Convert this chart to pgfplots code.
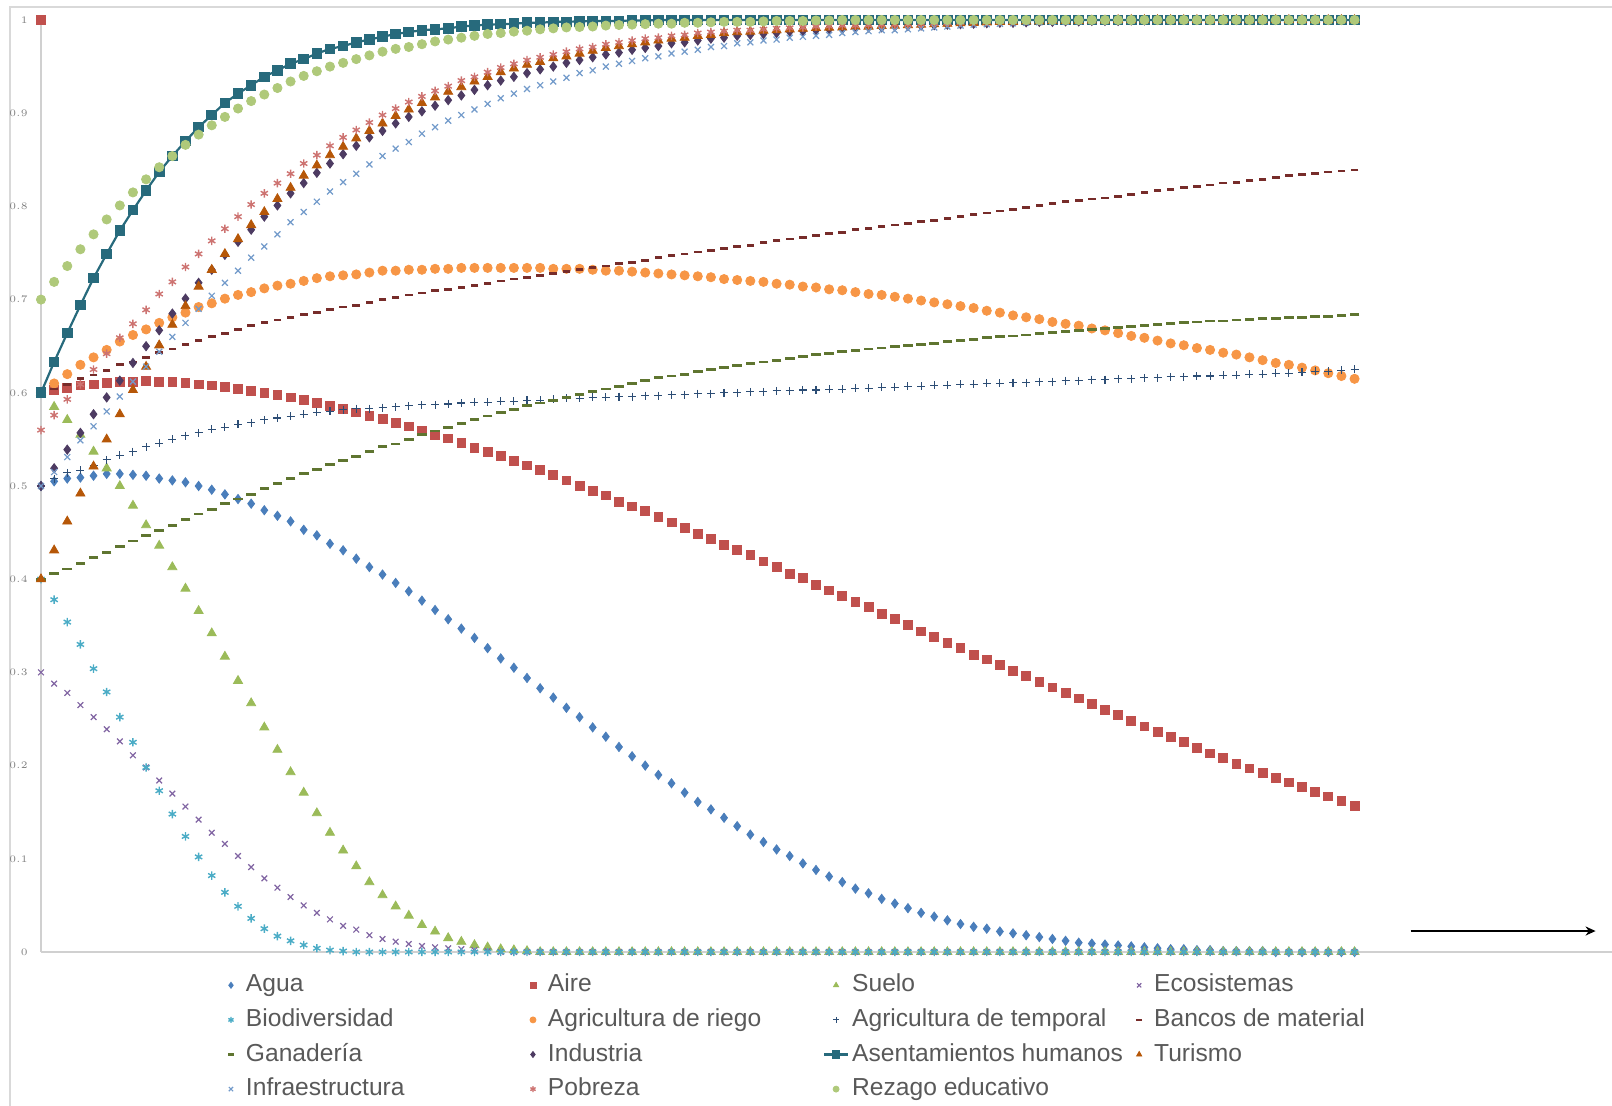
\documentclass[border=0pt]{standalone}
\usepackage{fontspec}
\setmainfont{Liberation Sans}
\usepackage{pgfplots}
\usepackage{pgfplotstable}
\pgfplotsset{compat=1.18}
\usetikzlibrary{arrows.meta}
\definecolor{cAgua}{HTML}{4A7EBB}
\definecolor{cAire}{HTML}{C0504D}
\definecolor{cSuelo}{HTML}{9BBB59}
\definecolor{cEco}{HTML}{8064A2}
\definecolor{cBio}{HTML}{4BACC6}
\definecolor{cRiego}{HTML}{F79646}
\definecolor{cTemp}{HTML}{2C4D75}
\definecolor{cBancos}{HTML}{772C2A}
\definecolor{cGan}{HTML}{5F7530}
\definecolor{cInd}{HTML}{4D3B62}
\definecolor{cAsent}{HTML}{276A7C}
\definecolor{cTur}{HTML}{B65708}
\definecolor{cInfra}{HTML}{729ACA}
\definecolor{cPob}{HTML}{CD7371}
\definecolor{cRez}{HTML}{AFC97A}
\definecolor{cAxis}{HTML}{D0D0D0}
\definecolor{cBorder}{HTML}{D9D9D9}
\definecolor{cTick}{HTML}{808080}
\definecolor{cLeg}{HTML}{595959}

\pgfplotstableread{
x agua aire suelo eco bio riego temp bancos gan ind asent tur infra pob rez
0 0.500 0.600 0.600 0.300 0.400 0.600 0.500 0.600 0.400 0.500 0.600 0.400 0.500 0.560 0.700
1 0.505 0.603 0.585 0.288 0.378 0.610 0.508 0.604 0.406 0.519 0.633 0.431 0.515 0.576 0.719
2 0.508 0.605 0.571 0.278 0.354 0.620 0.514 0.609 0.411 0.539 0.664 0.462 0.531 0.593 0.736
3 0.509 0.608 0.555 0.265 0.330 0.630 0.517 0.615 0.417 0.557 0.694 0.492 0.549 0.609 0.754
4 0.511 0.609 0.537 0.252 0.304 0.638 0.522 0.619 0.423 0.577 0.723 0.521 0.564 0.625 0.770
5 0.513 0.611 0.519 0.239 0.279 0.646 0.528 0.624 0.429 0.595 0.749 0.550 0.580 0.642 0.786
6 0.513 0.612 0.500 0.226 0.252 0.655 0.533 0.630 0.435 0.613 0.774 0.577 0.596 0.659 0.801
7 0.512 0.612 0.479 0.211 0.225 0.662 0.537 0.633 0.441 0.632 0.796 0.603 0.612 0.674 0.815
8 0.511 0.613 0.458 0.198 0.198 0.668 0.542 0.638 0.447 0.650 0.817 0.628 0.628 0.689 0.829
9 0.508 0.612 0.436 0.184 0.173 0.675 0.546 0.643 0.452 0.667 0.837 0.651 0.644 0.706 0.842
10 0.506 0.612 0.413 0.170 0.148 0.681 0.550 0.647 0.458 0.685 0.854 0.673 0.660 0.719 0.854
11 0.504 0.611 0.390 0.156 0.124 0.686 0.554 0.652 0.464 0.701 0.870 0.693 0.675 0.735 0.866
12 0.500 0.609 0.366 0.142 0.102 0.692 0.557 0.656 0.470 0.718 0.885 0.714 0.690 0.749 0.877
13 0.496 0.608 0.342 0.128 0.082 0.696 0.561 0.660 0.475 0.732 0.898 0.732 0.704 0.763 0.887
14 0.491 0.606 0.317 0.116 0.064 0.701 0.563 0.664 0.481 0.748 0.911 0.749 0.718 0.776 0.896
15 0.486 0.604 0.291 0.103 0.049 0.705 0.566 0.668 0.486 0.762 0.921 0.765 0.731 0.789 0.905
16 0.481 0.602 0.267 0.091 0.036 0.708 0.568 0.672 0.491 0.775 0.930 0.780 0.745 0.802 0.913
17 0.474 0.600 0.241 0.079 0.025 0.712 0.571 0.675 0.497 0.789 0.939 0.794 0.757 0.814 0.920
18 0.468 0.598 0.217 0.069 0.017 0.715 0.573 0.678 0.503 0.801 0.946 0.808 0.770 0.825 0.927
19 0.462 0.595 0.193 0.059 0.012 0.717 0.575 0.681 0.508 0.814 0.953 0.820 0.783 0.835 0.934
20 0.453 0.592 0.171 0.050 0.0075 0.720 0.577 0.684 0.513 0.825 0.958 0.833 0.794 0.846 0.940
21 0.447 0.589 0.149 0.042 0.004 0.723 0.579 0.686 0.518 0.836 0.964 0.844 0.805 0.855 0.945
22 0.438 0.586 0.128 0.035 0.002 0.725 0.580 0.689 0.523 0.846 0.969 0.855 0.816 0.865 0.950
23 0.431 0.583 0.109 0.028 0.001 0.726 0.582 0.692 0.527 0.856 0.972 0.864 0.826 0.874 0.954
24 0.422 0.579 0.092 0.024 0 0.727 0.583 0.694 0.532 0.865 0.976 0.873 0.835 0.882 0.958
25 0.413 0.575 0.075 0.018 0 0.729 0.583 0.697 0.537 0.874 0.979 0.881 0.845 0.890 0.962
26 0.405 0.572 0.061 0.014 0 0.731 0.584 0.700 0.542 0.881 0.982 0.889 0.854 0.898 0.966
27 0.396 0.568 0.049 0.011 0 0.731 0.585 0.702 0.545 0.889 0.985 0.897 0.862 0.905 0.969
28 0.387 0.564 0.039 0.0086 0 0.732 0.586 0.705 0.550 0.896 0.987 0.904 0.869 0.912 0.971
29 0.377 0.559 0.029 0.0064 0 0.732 0.587 0.707 0.555 0.902 0.989 0.911 0.878 0.918 0.974
30 0.367 0.555 0.022 0.005 0 0.733 0.587 0.710 0.559 0.908 0.990 0.917 0.885 0.924 0.977
31 0.357 0.551 0.015 0.004 0 0.733 0.588 0.711 0.563 0.914 0.991 0.923 0.892 0.929 0.979
32 0.347 0.546 0.011 0.003 0 0.734 0.589 0.713 0.567 0.919 0.993 0.928 0.898 0.935 0.981
33 0.337 0.541 0.0075 0.002 0 0.734 0.590 0.715 0.571 0.925 0.994 0.934 0.904 0.939 0.983
34 0.326 0.537 0.005 0.001 0 0.734 0.590 0.717 0.575 0.930 0.995 0.939 0.910 0.944 0.985
35 0.315 0.532 0.003 0 0 0.734 0.591 0.720 0.579 0.935 0.9955 0.944 0.916 0.949 0.986
36 0.305 0.527 0.002 0 0 0.734 0.591 0.722 0.582 0.939 0.996 0.948 0.921 0.953 0.9875
37 0.294 0.522 0.001 0 0 0.734 0.592 0.724 0.586 0.943 0.997 0.952 0.926 0.957 0.9885
38 0.283 0.517 0 0 0 0.734 0.592 0.726 0.589 0.947 0.997 0.955 0.930 0.960 0.990
39 0.273 0.512 0 0 0 0.733 0.593 0.728 0.592 0.950 0.998 0.959 0.934 0.963 0.991
40 0.262 0.506 0 0 0 0.733 0.594 0.730 0.595 0.954 0.998 0.961 0.938 0.966 0.992
41 0.252 0.500 0 0 0 0.733 0.594 0.732 0.598 0.957 0.9985 0.964 0.943 0.969 0.9925
42 0.241 0.495 0 0 0 0.732 0.595 0.734 0.601 0.960 0.999 0.967 0.946 0.971 0.993
43 0.231 0.490 0 0 0 0.731 0.595 0.736 0.604 0.963 0.999 0.970 0.950 0.974 0.994
44 0.220 0.483 0 0 0 0.731 0.596 0.739 0.607 0.965 0.999 0.972 0.953 0.976 0.9946
45 0.210 0.478 0 0 0 0.730 0.596 0.740 0.610 0.968 0.9995 0.974 0.956 0.978 0.995
46 0.200 0.473 0 0 0 0.729 0.597 0.742 0.613 0.970 0.9995 0.976 0.959 0.980 0.9955
47 0.190 0.467 0 0 0 0.728 0.597 0.745 0.616 0.972 1 0.978 0.961 0.981 0.996
48 0.181 0.461 0 0 0 0.727 0.598 0.747 0.618 0.975 1 0.980 0.964 0.983 0.996
49 0.171 0.455 0 0 0 0.726 0.598 0.749 0.620 0.976 1 0.981 0.966 0.984 0.997
50 0.161 0.449 0 0 0 0.725 0.599 0.751 0.623 0.978 1 0.983 0.968 0.986 0.997
51 0.153 0.443 0 0 0 0.724 0.599 0.753 0.625 0.980 1 0.984 0.971 0.987 0.9975
52 0.144 0.437 0 0 0 0.722 0.600 0.755 0.627 0.981 1 0.986 0.972 0.988 0.998
53 0.135 0.431 0 0 0 0.721 0.600 0.757 0.629 0.983 1 0.987 0.975 0.989 0.998
54 0.126 0.426 0 0 0 0.720 0.601 0.758 0.631 0.984 1 0.9875 0.976 0.989 0.998
55 0.118 0.419 0 0 0 0.719 0.601 0.761 0.633 0.985 1 0.9886 0.978 0.990 0.9985
56 0.110 0.413 0 0 0 0.717 0.602 0.763 0.635 0.986 1 0.989 0.979 0.991 0.999
57 0.103 0.406 0 0 0 0.716 0.602 0.765 0.637 0.9875 1 0.990 0.981 0.9915 0.999
58 0.095 0.401 0 0 0 0.714 0.603 0.767 0.639 0.988 1 0.9907 0.982 0.992 0.999
59 0.088 0.394 0 0 0 0.713 0.603 0.769 0.641 0.989 1 0.9914 0.983 0.993 0.9995
60 0.081 0.388 0 0 0 0.711 0.604 0.771 0.642 0.990 1 0.9918 0.984 0.9935 0.9995
61 0.075 0.382 0 0 0 0.710 0.604 0.772 0.644 0.990 1 0.992 0.986 0.994 1
62 0.068 0.376 0 0 0 0.708 0.605 0.775 0.645 0.991 1 0.993 0.987 0.994 1
63 0.063 0.370 0 0 0 0.706 0.605 0.776 0.647 0.992 1 0.993 0.988 0.9945 1
64 0.057 0.363 0 0 0 0.705 0.606 0.778 0.648 0.992 1 0.9936 0.989 0.995 1
65 0.052 0.357 0 0 0 0.703 0.606 0.780 0.650 0.993 1 0.994 0.989 0.995 1
66 0.047 0.351 0 0 0 0.701 0.607 0.782 0.651 0.9935 1 0.9945 0.990 0.9955 1
67 0.042 0.344 0 0 0 0.699 0.607 0.784 0.652 0.994 1 0.995 0.991 0.996 1
68 0.038 0.338 0 0 0 0.697 0.608 0.785 0.653 0.9945 1 0.9955 0.992 0.9965 1
69 0.034 0.332 0 0 0 0.695 0.608 0.787 0.655 0.995 1 0.996 0.993 0.997 1
70 0.030 0.326 0 0 0 0.693 0.609 0.789 0.656 0.9955 1 0.9965 0.994 0.9975 1
71 0.027 0.319 0 0 0 0.691 0.609 0.791 0.657 0.996 1 0.997 0.995 0.998 1
72 0.025 0.314 0 0 0 0.688 0.610 0.793 0.659 0.9965 1 0.9975 0.9955 0.998 1
73 0.022 0.308 0 0 0 0.686 0.610 0.795 0.660 0.997 1 0.998 0.996 0.9985 1
74 0.020 0.302 0 0 0 0.683 0.611 0.797 0.661 0.997 1 0.998 0.9965 0.9985 1
75 0.018 0.296 0 0 0 0.681 0.611 0.799 0.662 0.9975 1 0.9985 0.997 0.999 1
76 0.016 0.290 0 0 0 0.679 0.612 0.801 0.664 0.998 1 0.9985 0.9975 0.999 1
77 0.014 0.284 0 0 0 0.676 0.612 0.803 0.665 0.998 1 0.999 0.998 0.999 1
78 0.012 0.278 0 0 0 0.674 0.613 0.805 0.666 0.9985 1 0.999 0.998 0.9995 1
79 0.010 0.272 0 0 0 0.672 0.613 0.806 0.667 0.9985 1 0.999 0.9985 0.9995 1
80 0.009 0.266 0 0 0 0.669 0.614 0.808 0.668 0.999 1 0.9995 0.999 1 1
81 0.008 0.260 0 0 0 0.667 0.614 0.809 0.669 0.999 1 0.9995 0.999 1 1
82 0.007 0.254 0 0 0 0.664 0.615 0.811 0.670 0.999 1 1 0.999 1 1
83 0.006 0.248 0 0 0 0.661 0.615 0.813 0.671 0.9995 1 1 0.9995 1 1
84 0.005 0.242 0 0 0 0.659 0.616 0.815 0.672 0.9995 1 1 0.9995 1 1
85 0.004 0.236 0 0 0 0.656 0.616 0.817 0.673 1 1 1 1 1 1
86 0.003 0.231 0 0 0 0.653 0.617 0.818 0.674 1 1 1 1 1 1
87 0.003 0.225 0 0 0 0.651 0.617 0.820 0.675 1 1 1 1 1 1
88 0.002 0.219 0 0 0 0.648 0.618 0.821 0.676 1 1 1 1 1 1
89 0.002 0.213 0 0 0 0.646 0.618 0.823 0.677 1 1 1 1 1 1
90 0.001 0.208 0 0 0 0.643 0.619 0.825 0.677 1 1 1 1 1 1
91 0.001 0.202 0 0 0 0.641 0.619 0.826 0.678 1 1 1 1 1 1
92 0.001 0.197 0 0 0 0.638 0.620 0.828 0.679 1 1 1 1 1 1
93 0.001 0.192 0 0 0 0.635 0.620 0.829 0.680 1 1 1 1 1 1
94 0 0.187 0 0 0 0.632 0.621 0.831 0.680 1 1 1 1 1 1
95 0 0.182 0 0 0 0.630 0.621 0.833 0.681 1 1 1 1 1 1
96 0 0.177 0 0 0 0.627 0.622 0.834 0.681 1 1 1 1 1 1
97 0 0.172 0 0 0 0.624 0.623 0.835 0.682 1 1 1 1 1 1
98 0 0.167 0 0 0 0.621 0.623 0.837 0.682 1 1 1 1 1 1
99 0 0.162 0 0 0 0.618 0.624 0.838 0.683 1 1 1 1 1 1
100 0 0.157 0 0 0 0.615 0.625 0.839 0.684 1 1 1 1 1 1
}\datos

\newcommand{\leg}[1]{\makebox[139pt][l]{\hspace{1.5pt}#1}}

\begin{document}
\begin{tikzpicture}[x=1pt,y=1pt]
\useasboundingbox (0,0) rectangle (806,553);
\draw[cBorder, line width=0.6pt] (5,0) -- (5,549.5) -- (806,549.5);
\begin{axis}[
  at={(20.5pt,77pt)}, anchor=south west,
  scale only axis, width=785.5pt, height=466pt,
  xmin=0, xmax=119.6, ymin=0, ymax=1,
  clip=false,
  axis x line=bottom, axis y line=left,
  axis line style={-, draw=cAxis, line width=0.6pt},
  xtick=\empty,
  ytick={0,0.1,0.2,0.3,0.4,0.5,0.6,0.7,0.8,0.9,1},
  major tick length=0pt,
  yticklabel style={font=\fontsize{4.2}{5}\selectfont, text=cTick, inner sep=0pt, xshift=-6.5pt},
  legend columns=4,
  legend style={at={(axis description cs:0.1133,-0.0234)}, anchor=north west,
    draw=none, fill=none, inner sep=0pt, outer sep=0pt,
    row sep=5.8pt, column sep=0pt,
    font=\fontsize{12.3}{14}\selectfont, text=cLeg,
    nodes={inner sep=0pt, text height=9pt, text depth=2.5pt}},
  legend image code/.code={\path[draw=none,fill=none] (0pt,-2pt) rectangle (12pt,2pt);
    \draw[mark repeat=2,mark phase=2,#1] plot coordinates {(0pt,0pt) (6pt,0pt) (12pt,0pt)};},
  legend image post style={mark size=1.5pt},
]
\addplot[only marks, mark=diamond*, mark size=2.3pt, color=cAgua] table[x=x,y=agua]{\datos};
\addlegendentry{\leg{Agua}}
\addplot[only marks, mark=square*, mark size=2.2pt, color=cAire] table[x=x,y=aire]{\datos};
\addlegendentry{\leg{Aire}}
\addplot[only marks, mark=triangle*, mark size=2.6pt, color=cSuelo] table[x=x,y=suelo]{\datos};
\addlegendentry{\leg{Suelo}}
\addplot[only marks, mark=x, mark size=2pt, color=cEco, mark options={line width=0.6pt}] table[x=x,y=eco]{\datos};
\addlegendentry{\leg{Ecosistemas}}
\addplot[only marks, mark=asterisk, mark size=2.1pt, color=cBio, mark options={line width=0.7pt}] table[x=x,y=bio]{\datos};
\addlegendentry{\leg{Biodiversidad}}
\addplot[only marks, mark=*, mark size=2.3pt, color=cRiego] table[x=x,y=riego]{\datos};
\addlegendentry{\leg{Agricultura de riego}}
\addplot[only marks, mark=+, mark size=2pt, color=cTemp, mark options={line width=0.55pt}] table[x=x,y=temp]{\datos};
\addlegendentry{\leg{Agricultura de temporal}}
\addplot[only marks, mark=-, mark size=1.9pt, color=cBancos, mark options={line width=1.4pt}] table[x=x,y=bancos]{\datos};
\addlegendentry{\leg{Bancos de material}}
\addplot[only marks, mark=-, mark size=2.4pt, color=cGan, mark options={line width=1.4pt}] table[x=x,y=gan]{\datos};
\addlegendentry{\leg{Ganadería}}
\addplot[only marks, mark=diamond*, mark size=2.3pt, color=cInd] table[x=x,y=ind]{\datos};
\addlegendentry{\leg{Industria}}
\addplot[color=cAsent, line width=1.1pt, mark=square*, mark size=2.1pt] table[x=x,y=asent]{\datos};
\addlegendentry{\leg{Asentamientos humanos}}
\addplot[only marks, mark=triangle*, mark size=2.6pt, color=cTur] table[x=x,y=tur]{\datos};
\addlegendentry{\leg{Turismo}}
\addplot[only marks, mark=x, mark size=2.1pt, color=cInfra, mark options={line width=0.6pt}] table[x=x,y=infra]{\datos};
\addlegendentry{\leg{Infraestructura}}
\addplot[only marks, mark=asterisk, mark size=2.1pt, color=cPob, mark options={line width=0.7pt}] table[x=x,y=pob]{\datos};
\addlegendentry{\leg{Pobreza}}
\addplot[only marks, mark=*, mark size=2.3pt, color=cRez] table[x=x,y=rez]{\datos};
\addlegendentry{\leg{Rezago educativo}}
\addplot[only marks, mark=square*, mark size=2.2pt, color=cAire, forget plot] coordinates {(0,1)};
\draw[black, line width=1.4pt, -{Stealth[length=5pt,width=4.5pt]}] (axis cs:104.26,0.0225) -- (axis cs:118.35,0.0225);
\end{axis}
\end{tikzpicture}
\end{document}
